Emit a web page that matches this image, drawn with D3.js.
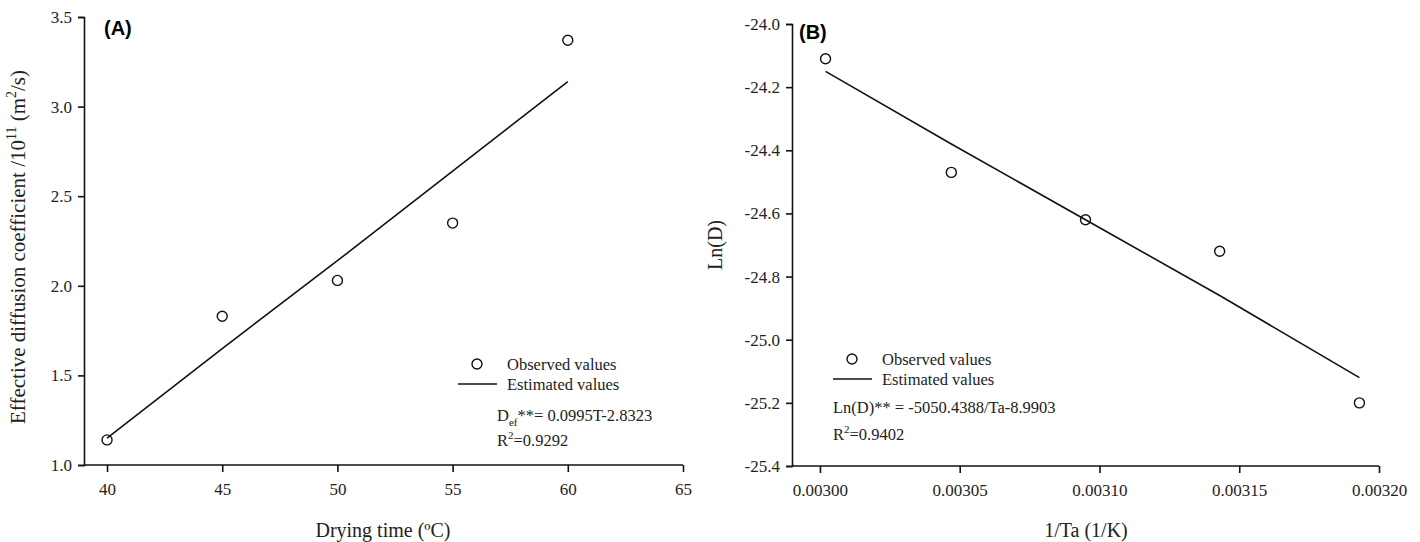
<!DOCTYPE html>
<html>
<head>
<meta charset="utf-8">
<script src="https://cdn.jsdelivr.net/npm/d3@7"></script>
<style>
	body { margin: 0; background: #fff; }
	svg { display: block; }
	text { font-family: "Liberation Serif", "Times New Roman", serif; fill: #222; }
	.tick text { font-size: 17px; }
	.axis path, .axis line { stroke: #111; stroke-width: 1.6; }
	.panel-label { font-family: "Liberation Sans", Arial, sans-serif; font-weight: bold; font-size: 20px; fill: #000; }
</style>
</head>
<body>
<svg id="chart" width="1420" height="542"></svg>
<script>
// Panel A: effective diffusion coefficient vs drying temperature
var tempA = [40, 45, 50, 55, 60];
var observedA = [1.14, 1.83, 2.03, 2.35, 3.37];
var estimatedA = [1.15, 1.65, 2.14, 2.64, 3.14];
var xTicksA = [40, 45, 50, 55, 60, 65];
var yTicksA = [1.0, 1.5, 2.0, 2.5, 3.0, 3.5];

// Panel B: Arrhenius plot
var invTaB = [0.003002, 0.003047, 0.003095, 0.003143, 0.003193];
var observedB = [-24.11, -24.47, -24.62, -24.72, -25.20];
var estimatedB = [-24.15, -24.38, -24.62, -24.86, -25.12];
var xTicksB = [0.00300, 0.00305, 0.00310, 0.00315, 0.00320];
var yTicksB = [-24.0, -24.2, -24.4, -24.6, -24.8, -25.0, -25.2, -25.4];

var svg = d3.select('#chart');

function drawPanel(opt) {
	var g = svg.append('g');

	var xAxis = g.append('g')
		.attr('class', 'axis')
		.attr('transform', 'translate(0,' + opt.y.range()[0] + ')')
		.call(d3.axisBottom(opt.x).tickValues(opt.xTicks).tickSizeOuter(0).tickSize(7).tickPadding(11)
			.tickFormat(opt.xFormat));
	xAxis.select('.domain').attr('d', 'M' + opt.x.range()[0] + ',0H' + opt.x(opt.xTicks[opt.xTicks.length - 1]));

	g.append('g')
		.attr('class', 'axis')
		.attr('transform', 'translate(' + opt.x.range()[0] + ',0)')
		.call(d3.axisLeft(opt.y).tickValues(opt.yTicks).tickSizeOuter(0).tickSize(6).tickPadding(6)
			.tickFormat(function(d) { return d.toFixed(1); }));

	g.selectAll('.tick text').attr('fill', '#222');

	var line = d3.line()
		.x(function(d, i) { return opt.x(opt.xs[i]); })
		.y(function(d) { return opt.y(d); });

	g.append('path')
		.datum(opt.estimated)
		.attr('d', line)
		.attr('fill', 'none')
		.attr('stroke', '#111')
		.attr('stroke-width', 1.6);

	g.selectAll('.obs')
		.data(opt.observed)
		.enter().append('circle')
		.attr('class', 'obs')
		.attr('cx', function(d, i) { return opt.x(opt.xs[i]); })
		.attr('cy', function(d) { return opt.y(d); })
		.attr('r', 5)
		.attr('fill', 'none')
		.attr('stroke', '#111')
		.attr('stroke-width', 1.4);

	g.append('text')
		.attr('class', 'panel-label')
		.attr('x', opt.labelX)
		.attr('y', opt.labelY)
		.text(opt.label);

	// legend
	var lg = g.append('g').attr('transform', 'translate(' + opt.legend[0] + ',' + opt.legend[1] + ')');
	lg.append('circle').attr('cx', 0).attr('cy', 0).attr('r', 5)
		.attr('fill', 'none').attr('stroke', '#111').attr('stroke-width', 1.4);
	lg.append('text').attr('x', 30).attr('y', 6).attr('font-size', 16.5).text('Observed values');
	lg.append('line').attr('x1', -19).attr('x2', 20).attr('y1', 20).attr('y2', 20)
		.attr('stroke', '#111').attr('stroke-width', 1.6);
	lg.append('text').attr('x', 30).attr('y', 26).attr('font-size', 16.5).text('Estimated values');

	return g;
}

// Panel A
var xA = d3.scaleLinear().domain([39, 65]).range([84, 683]);
var yA = d3.scaleLinear().domain([1, 3.5]).range([465, 17]);
var gA = drawPanel({
	x: xA, y: yA, xs: tempA,
	observed: observedA, estimated: estimatedA,
	xTicks: xTicksA, yTicks: yTicksA,
	xFormat: function(d) { return d; },
	label: '(A)', labelX: 104, labelY: 35,
	legend: [477, 364]
});

var eqA = gA.append('text').attr('x', 497).attr('y', 421).attr('font-size', 16.5);
eqA.append('tspan').text('D');
eqA.append('tspan').attr('font-size', 11).attr('dy', 5).text('ef');
eqA.append('tspan').attr('dy', -5).text('**= 0.0995T-2.8323');

var rA = gA.append('text').attr('x', 497).attr('y', 446).attr('font-size', 16.5);
rA.append('tspan').text('R');
rA.append('tspan').attr('font-size', 11).attr('dy', -7).text('2');
rA.append('tspan').attr('dy', 7).text('=0.9292');

var yTitleA = gA.append('text')
	.attr('transform', 'translate(25,247) rotate(-90)')
	.attr('text-anchor', 'middle')
	.attr('font-size', 21);
yTitleA.append('tspan').text('Effective diffusion coefficient /10');
yTitleA.append('tspan').attr('font-size', 14).attr('dy', -9).text('11');
yTitleA.append('tspan').attr('dy', 9).text(' (m');
yTitleA.append('tspan').attr('font-size', 14).attr('dy', -9).text('2');
yTitleA.append('tspan').attr('dy', 9).text('/s)');

gA.append('text')
	.attr('x', 383).attr('y', 537)
	.attr('text-anchor', 'middle')
	.attr('font-size', 20)
	.text('Drying time (\u00baC)');

// Panel B
var xB = d3.scaleLinear().domain([0.00299, 0.00320]).range([792, 1379]);
var yB = d3.scaleLinear().domain([-25.4, -24.0]).range([466, 24]);
var gB = drawPanel({
	x: xB, y: yB, xs: invTaB,
	observed: observedB, estimated: estimatedB,
	xTicks: xTicksB, yTicks: yTicksB,
	xFormat: function(d) { return d.toFixed(5); },
	label: '(B)', labelX: 799, labelY: 39,
	legend: [852, 359]
});

var eqB = gB.append('text').attr('x', 833).attr('y', 413).attr('font-size', 16.5)
	.text('Ln(D)** = -5050.4388/Ta-8.9903');

var rB = gB.append('text').attr('x', 833).attr('y', 440).attr('font-size', 16.5);
rB.append('tspan').text('R');
rB.append('tspan').attr('font-size', 11).attr('dy', -7).text('2');
rB.append('tspan').attr('dy', 7).text('=0.9402');

gB.append('text')
	.attr('transform', 'translate(722,245) rotate(-90)')
	.attr('text-anchor', 'middle')
	.attr('font-size', 20)
	.text('Ln(D)');

gB.append('text')
	.attr('x', 1086).attr('y', 537)
	.attr('text-anchor', 'middle')
	.attr('font-size', 20)
	.text('1/Ta (1/K)');
</script>
</body>
</html>
